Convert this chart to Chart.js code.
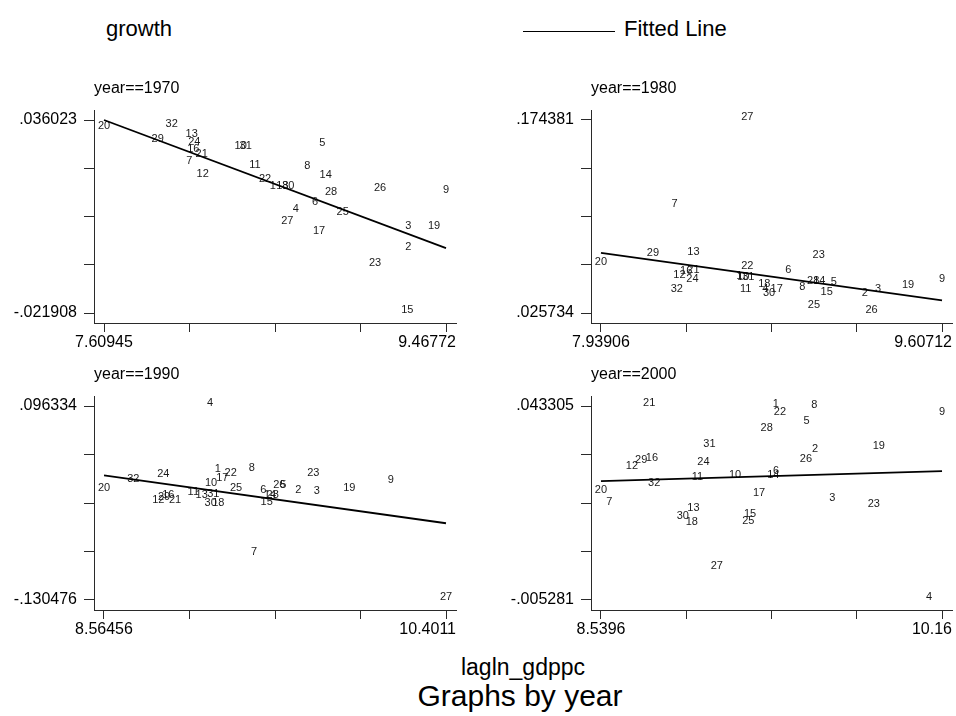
<!DOCTYPE html>
<html>
<head>
<meta charset="utf-8">
<script src="https://cdn.jsdelivr.net/npm/chart.js@4.4.1/dist/chart.umd.min.js"></script>
<style>
html, body { margin: 0; padding: 0; background: #fff; width: 956px; height: 716px; overflow: hidden; }
body { position: relative; font-family: "Liberation Sans", Arial, sans-serif; color: #000; }
.t { position: absolute; white-space: nowrap; line-height: 1; z-index: 2; }
.c { position: absolute; z-index: 1; }
.key { position: absolute; height: 0; border-top: 1px solid #000; z-index: 2; }
</style>
</head>
<body>
<div class="t" style="left:106px;top:18px;font-size:22px;">growth</div>
<div class="key" style="left:523px;top:31px;width:92px;"></div>
<div class="t" style="left:624px;top:18px;font-size:22px;">Fitted Line</div>

<div class="t" style="left:94px;top:80px;font-size:16px;">year==1970</div>
<div class="t" style="left:591px;top:80px;font-size:16px;">year==1980</div>
<div class="t" style="left:94px;top:366px;font-size:16px;">year==1990</div>
<div class="t" style="left:591px;top:366px;font-size:16px;">year==2000</div>

<canvas class="c" id="p0" width="476" height="270" style="left:0px;top:90px;"></canvas>
<canvas class="c" id="p1" width="476" height="270" style="left:480px;top:90px;"></canvas>
<canvas class="c" id="p2" width="476" height="270" style="left:0px;top:376px;"></canvas>
<canvas class="c" id="p3" width="476" height="270" style="left:480px;top:376px;"></canvas>

<div class="t" style="left:523px;top:656px;font-size:23px;transform:translateX(-50%);">lagln_gdppc</div>
<div class="t" style="left:520px;top:681px;font-size:30px;transform:translateX(-50%);">Graphs by year</div>

<script>
// ---------------- data ----------------
const years = ['1970', '1980', '1990', '2000'];
const ids = [1, 2, 3, 4, 5, 6, 7, 8, 9, 10, 11, 12, 13, 14, 15, 16,
             17, 18, 19, 20, 21, 22, 23, 24, 25, 26, 27, 28, 29, 30, 31, 32];

const x1970 = [8.5261, 9.2629, 9.2629, 8.6511, 8.7956, 8.7559, 8.0729, 8.7141, 9.46772, 8.3522, 8.4299, 8.1457, 8.0860, 8.8141, 9.2575, 8.0947,
               8.7777, 8.5783, 9.4025, 7.60945, 8.1403, 8.4843, 9.0819, 8.1001, 8.9064, 9.1091, 8.6054, 8.8429, 7.9012, 8.6109, 8.3794, 7.9773];
const y1970 = [.015344, -.002847, .003356, .008361, .028141, .010459, .022836, .021338, .014145, .027422, .021637, .018940, .030928, .018640, -.021908, .026343,
               .001857, .015344, .003356, .033326, .024934, .017442, -.007823, .028620, .007461, .014834, .004944, .013635, .029340, .015344, .027422, .033835];

const x1980 = [8.6159, 9.2297, 9.2946, 8.7429, 9.0783, 8.8552, 8.2985, 8.9235, 9.60712, 8.6354, 8.6471, 8.3229, 8.3913, 9.0066, 9.0427, 8.3556,
               8.7985, 8.7380, 9.4411, 7.93906, 8.3913, 8.6550, 9.0036, 8.3864, 8.9807, 9.2624, 8.6550, 8.9772, 8.1930, 8.7609, 8.6598, 8.3102];
const y1980 = [.052295, .038517, .042115, .041579, .047167, .056887, .107406, .043646, .049999, .051300, .041579, .053060, .070665, .047932, .039818, .055586,
               .042115, .045406, .044870, .062475, .056352, .059413, .068369, .049999, .029332, .025734, .174381, .048468, .069670, .039053, .051300, .041579];

const x1990 = [9.1752, 9.6080, 9.7068, 9.1338, 9.5274, 9.4200, 9.3701, 9.3577, 10.1042, 9.1392, 9.0441, 8.8562, 9.0892, 9.4560, 9.4383, 8.9099,
               9.1999, 9.1784, 9.8819, 8.56456, 8.9459, 9.2450, 9.6885, 8.8830, 9.2734, 9.5060, 10.4011, 9.4705, 8.8868, 9.1376, 9.1515, 8.7219];
const y1990 = [.019492, -.005658, -.006817, .096334, .000948, -.004847, -.078327, .020188, .005932, .002803, -.007628, -.017248, -.010642, -.010642, -.019218, -.011453,
               .008598, -.021073, -.002529, -.002529, -.017248, .014393, .014393, .013697, -.002992, .000948, -.130476, -.011453, -.013423, -.021073, -.009483, .007091];

const x2000 = [9.3697, 9.5562, 9.6382, 10.0984, 9.5168, 9.3712, 8.5790, 9.5528, 10.16, 9.1767, 8.9978, 8.6867, 8.9789, 9.3584, 9.2478, 8.7815,
               9.2905, 8.9713, 9.8598, 8.5396, 8.7687, 9.3901, 9.8360, 9.0263, 9.2398, 9.5135, 9.0899, 9.3270, 8.7308, 8.9286, 9.0548, 8.7924];
const y2000 = [.043000, .031903, .019550, -.005281, .038804, .026227, .018400, .042730, .041055, .025401, .024801, .027477, .017050, .025226, .015474, .029552,
               .020650, .013399, .032478, .021476, .043305, .041055, .017900, .028552, .013799, .029227, .002472, .037054, .028977, .014974, .032978, .023301];

// fitted line values at the min and max x of each year
const fitAtXLo = [.036023, .071966, .015204, .024476];
const fitAtXHi = [-.002429, .035455, -.040776, .026977];

// tick labels (min / max of each axis)
const xLoLabels = ['7.60945', '7.93906', '8.56456', '8.5396'];
const xHiLabels = ['9.46772', '9.60712', '10.4011', '10.16'];
const yLoLabels = ['-.021908', '.025734', '-.130476', '-.005281'];
const yHiLabels = ['.036023', '.174381', '.096334', '.043305'];

const seriesX = [x1970, x1980, x1990, x2000];
const seriesY = [y1970, y1980, y1990, y2000];

// ---------------- drawing ----------------
const FONT = '"Liberation Sans", Arial, sans-serif';

const markerLabels = {
  id: 'markerLabels',
  afterDatasetDraw(chart, args) {
    const ds = chart.data.datasets[args.index];
    if (!ds.markerText) return;
    const ctx = chart.ctx;
    ctx.save();
    ctx.font = '11px ' + FONT;
    ctx.fillStyle = '#1a1a1a';
    ctx.textAlign = 'center';
    ctx.textBaseline = 'middle';
    args.meta.data.forEach((el, i) => {
      ctx.fillText(ds.markerText[i], el.x, el.y - 3);
    });
    ctx.restore();
  }
};

const xTickText = {
  id: 'xTickText',
  afterDraw(chart) {
    const sc = chart.scales.x;
    const area = chart.chartArea;
    const ctx = chart.ctx;
    ctx.save();
    ctx.font = '16px ' + FONT;
    ctx.fillStyle = '#000';
    ctx.textAlign = 'center';
    ctx.textBaseline = 'middle';
    sc.ticks.forEach(t => {
      if (!t.label) return;
      const w = ctx.measureText(t.label).width;
      let x = sc.getPixelForValue(t.value);
      x = Math.min(x, area.right - w / 2);
      ctx.fillText(t.label, x, area.bottom + 19.5);
    });
    ctx.restore();
  }
};

const AXIS = '#2a2a2a';

function makePanel(p) {
  const xl = parseFloat(xLoLabels[p]), xh = parseFloat(xHiLabels[p]);
  const yl = parseFloat(yLoLabels[p]), yh = parseFloat(yHiLabels[p]);
  const xPad = (xh - xl) * 10 / 342;
  const yPad = (yh - yl) * 10 / 193;
  const right = p % 2 === 1;
  const bottomRow = p >= 2;
  const yAxisWidth = right ? 111 : 94;
  const xAxisHeight = bottomRow ? 36 : 37;
  const padRight = right ? 4 : 20;

  const five = (lo, hi) => [0, 1, 2, 3, 4].map(k => ({ value: lo + k * (hi - lo) / 4 }));

  new Chart(document.getElementById('p' + p), {
    type: 'scatter',
    data: {
      datasets: [
        {
          type: 'scatter',
          label: 'growth',
          data: ids.map((id, i) => ({ x: seriesX[p][i], y: seriesY[p][i] })),
          markerText: ids.map(String),
          pointRadius: 0,
          pointHoverRadius: 0,
          order: 1
        },
        {
          type: 'line',
          label: 'Fitted Line',
          data: [{ x: xl, y: fitAtXLo[p] }, { x: xh, y: fitAtXHi[p] }],
          borderColor: '#000',
          borderWidth: 1.8,
          pointRadius: 0,
          pointHoverRadius: 0,
          fill: false,
          tension: 0,
          order: 0
        }
      ]
    },
    options: {
      responsive: false,
      animation: false,
      devicePixelRatio: 1,
      events: [],
      layout: { padding: { left: 0, right: padRight, top: 20, bottom: 0 } },
      plugins: { legend: { display: false }, tooltip: { enabled: false }, title: { display: false } },
      scales: {
        x: {
          type: 'linear',
          position: 'bottom',
          min: xl - xPad,
          max: xh + xPad,
          afterBuildTicks: s => { s.ticks = five(xl, xh); },
          ticks: {
            display: false,
            autoSkip: false,
            callback: (v, i) => i === 0 ? xLoLabels[p] : (i === 4 ? xHiLabels[p] : '')
          },
          grid: { drawOnChartArea: false, drawTicks: true, tickLength: 9, color: AXIS, lineWidth: 1 },
          border: { display: true, color: AXIS, width: 1 },
          afterFit: s => { s.height = xAxisHeight; s.paddingLeft = 0; s.paddingRight = 0; s.paddingTop = 0; s.paddingBottom = 0; }
        },
        y: {
          type: 'linear',
          position: 'left',
          min: yl - yPad,
          max: yh + yPad,
          afterBuildTicks: s => { s.ticks = five(yl, yh); },
          ticks: {
            autoSkip: false,
            padding: 7,
            color: '#000',
            font: { family: FONT, size: 16 },
            callback: (v, i) => i === 0 ? yLoLabels[p] : (i === 4 ? yHiLabels[p] : '')
          },
          grid: { drawOnChartArea: false, drawTicks: true, tickLength: 10, color: AXIS, lineWidth: 1 },
          border: { display: true, color: AXIS, width: 1 },
          afterFit: s => { s.width = yAxisWidth; s.paddingLeft = 0; s.paddingRight = 0; s.paddingTop = 0; s.paddingBottom = 0; }
        }
      }
    },
    plugins: [markerLabels, xTickText]
  });
}

years.forEach((y, p) => makePanel(p));
</script>
</body>
</html>
